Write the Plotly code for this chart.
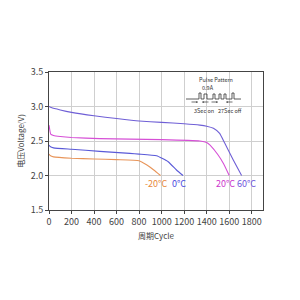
import plotly.graph_objects as go

# ---- data ----
x_60 = [0, 20, 100, 200, 400, 600, 800, 1000, 1200, 1340, 1400, 1460, 1515, 1560, 1635, 1710]
y_60 = [3.0, 2.985, 2.95, 2.915, 2.865, 2.825, 2.79, 2.77, 2.75, 2.73, 2.715, 2.685, 2.61, 2.47, 2.23, 2.0]

x_20 = [0, 5, 15, 40, 100, 200, 450, 718, 1000, 1340, 1400, 1430, 1500, 1550, 1600]
y_20 = [2.73, 2.68, 2.6, 2.58, 2.565, 2.55, 2.535, 2.527, 2.52, 2.5, 2.48, 2.44, 2.30, 2.17, 2.0]

x_0 = [0, 10, 40, 200, 450, 718, 800, 955, 1058, 1132, 1190]
y_0 = [2.44, 2.42, 2.40, 2.38, 2.35, 2.32, 2.31, 2.285, 2.2, 2.08, 2.0]

x_m20 = [0, 10, 40, 200, 400, 600, 800, 866, 930, 990]
y_m20 = [2.31, 2.29, 2.27, 2.25, 2.24, 2.23, 2.215, 2.155, 2.08, 2.0]

series_names = ["60°C", "20°C", "0°C", "-20°C"]
series_colors = ["#6f5fd6", "#d64fd6", "#5a5ad8", "#e8955a"]
label_colors = ["#6f55dd", "#cc33cc", "#4a4ae0", "#e8893a"]
x_ticks = [0, 200, 400, 600, 800, 1000, 1200, 1400, 1600, 1800]
y_ticks = [1.5, 2.0, 2.5, 3.0, 3.5]

FONT = "Noto Sans CJK SC"

L, R, T, B = 49, 263, 72, 210
W = R - L
H = B - T


def px(x):
    return (x - L) / W


def py(y):
    return (B - y) / H


fig = go.Figure()
data = [(x_60, y_60), (x_20, y_20), (x_0, y_0), (x_m20, y_m20)]
for (xs, ys), name, col in zip(data, series_names, series_colors):
    fig.add_trace(go.Scatter(x=xs, y=ys, mode="lines", name=name,
                             line=dict(color=col, width=1.1, shape="spline", smoothing=0.4),
                             showlegend=False))

# series labels
label_pos = [(246.5, 183), (225.5, 183), (179, 183), (156, 183)]
for name, col, (lx, ly) in zip(series_names, label_colors, label_pos):
    fig.add_annotation(x=px(lx), y=py(ly), xref="paper", yref="paper", text=name,
                       showarrow=False, font=dict(family=FONT, size=9, color=col),
                       xanchor="center", yanchor="middle")

# white box for pulse pattern inset
fig.add_shape(type="rect", xref="paper", yref="paper",
              x0=px(186), x1=px(250), y0=py(113), y1=py(72.5),
              fillcolor="white", line=dict(width=0), layer="between")

small = dict(family=FONT, size=5.5, color="#333")
fig.add_annotation(x=px(216), y=py(80), xref="paper", yref="paper", text="Pulse Pattern",
                   showarrow=False, font=small, xanchor="center", yanchor="middle")
fig.add_annotation(x=px(200), y=py(88), xref="paper", yref="paper", text="0.9A",
                   showarrow=False, font=small, xanchor="left", yanchor="middle")
fig.add_annotation(x=px(204), y=py(111), xref="paper", yref="paper", text="3Sec on",
                   showarrow=False, font=small, xanchor="center", yanchor="middle")
fig.add_annotation(x=px(230), y=py(111), xref="paper", yref="paper", text="27Sec off",
                   showarrow=False, font=small, xanchor="center", yanchor="middle")

# pulse waveform (decorative)
wave = [(186, 99), (199, 99), (199, 93), (201, 93), (201, 99), (204, 99), (204, 94),
        (207, 94), (207, 99), (213, 99), (213, 94), (215, 94), (215, 99), (219, 99),
        (219, 94), (221, 94), (221, 99), (224, 99), (224, 94), (226, 94), (226, 99),
        (232, 99), (232, 93), (234, 93), (234, 99), (241, 99)]
path = "M " + " L ".join(f"{px(a):.4f},{py(b):.4f}" for a, b in wave)
fig.add_shape(type="path", xref="paper", yref="paper", path=path,
              line=dict(color="#333", width=0.8))
# arrows
for (x0, x1) in [(190, 198), (210, 202), (210, 218), (234, 226)]:
    fig.add_annotation(x=px(x1), y=py(102), ax=x0 - x1, ay=0, xref="paper", yref="paper",
                       axref="pixel", ayref="pixel", text="", showarrow=True,
                       arrowhead=2, arrowsize=0.5, arrowwidth=0.7, arrowcolor="#333")

fig.update_layout(
    width=300, height=300,
    margin=dict(l=L, r=300 - R, t=T, b=300 - B),
    paper_bgcolor="white", plot_bgcolor="white",
    font=dict(family=FONT, size=9, color="#444"),
)
fig.update_xaxes(range=[0, 1900], tickvals=x_ticks, ticks="outside", ticklen=3,
                 tickcolor="#444", showline=True, linecolor="#444", linewidth=1, mirror=True,
                 showgrid=True, gridcolor="#cfcfcf", gridwidth=1, zeroline=False,
                 tickfont=dict(size=9, color="#444"),
                 title=dict(text="周期Cycle", font=dict(size=8, color="#444"), standoff=6))
fig.update_yaxes(range=[1.5, 3.5], tickvals=y_ticks, tickformat=".1f", ticks="outside",
                 ticklen=3, tickcolor="#444", showline=True, linecolor="#444", linewidth=1,
                 mirror=True, showgrid=True, gridcolor="#cfcfcf", gridwidth=1, zeroline=False,
                 tickfont=dict(size=9, color="#444"),
                 title=dict(text="电压Voltage(V)", font=dict(size=8, color="#444"), standoff=4))

fig.write_html("out.html")
